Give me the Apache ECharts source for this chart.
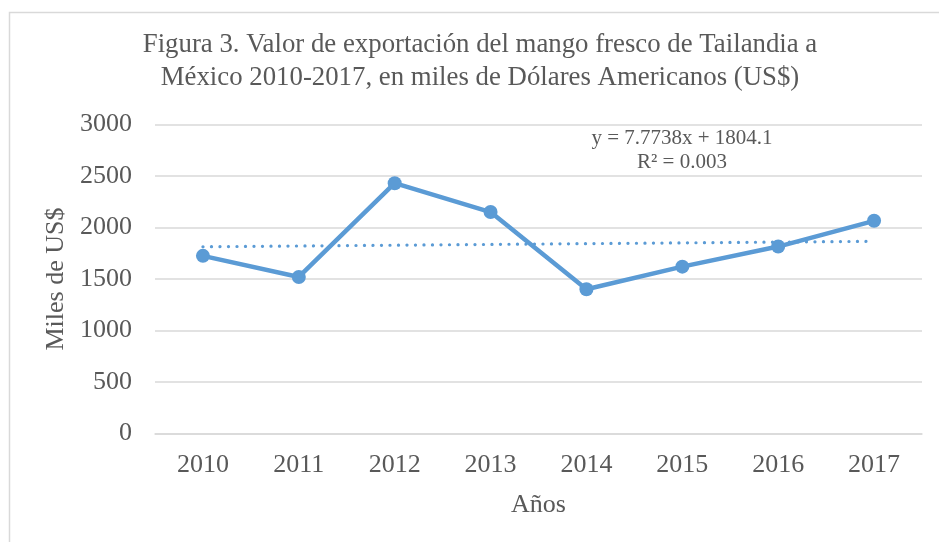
<!DOCTYPE html>
<html>
<head>
<meta charset="utf-8">
<script src="https://cdn.jsdelivr.net/npm/echarts@6/dist/echarts.min.js"></script>
<style>
html,body{margin:0;padding:0;background:#fff;}
#chart{width:939px;height:542px;}
</style>
</head>
<body>
<div id="chart"></div>
<script>
var categories = ['2010','2011','2012','2013','2014','2015','2016','2017'];
var values = [1725, 1520, 2430, 2150, 1400, 1620, 1815, 2065];
var trendValues = [1813, null, null, null, null, null, null, 1866];
var yTicks = [0, 500, 1000, 1500, 2000, 2500, 3000];
var titleText = 'Figura 3. Valor de exportación del mango fresco de Tailandia a\nMéxico 2010-2017, en miles de Dólares Americanos (US$)';
var equationText = 'y = 7.7738x + 1804.1\nR² = 0.003';

var FONT = '"Liberation Serif", "Times New Roman", serif';
var GRAY = '#595959';
var BLUE = '#5B9BD5';

var chart = echarts.init(document.getElementById('chart'), null, {renderer: 'canvas'});
chart.setOption({
  animation: false,
  backgroundColor: '#fff',
  graphic: [
    {type: 'rect', left: 7, top: 10, shape: {width: 1000, height: 600}, style: {fill: null, stroke: '#d9d9d9', lineWidth: 1.5}, silent: true, z: -1},
    {type: 'text', x: 480, y: 61.5, style: {text: titleText, font: '26.8px ' + FONT, fill: GRAY, align: 'center', verticalAlign: 'middle', lineHeight: 33}, z: 10},
    {type: 'text', x: 682, y: 150, style: {text: equationText, font: '21px ' + FONT, fill: GRAY, align: 'center', verticalAlign: 'middle', lineHeight: 24}, z: 10}
  ],
  grid: {left: 155, right: 17, top: 124.5, bottom: 108.5, containLabel: false},
  xAxis: {
    type: 'category',
    data: categories,
    boundaryGap: true,
    name: 'Años',
    nameLocation: 'middle',
    nameGap: 59,
    nameTextStyle: {fontFamily: FONT, fontSize: 26, color: GRAY, verticalAlign: 'top'},
    axisLine: {lineStyle: {color: '#d9d9d9', width: 1.5}},
    axisTick: {show: false},
    axisLabel: {fontFamily: FONT, fontSize: 26, color: GRAY, margin: 19}
  },
  yAxis: {
    type: 'value',
    min: yTicks[0],
    max: yTicks[yTicks.length - 1],
    interval: 500,
    name: 'Miles de US$',
    nameLocation: 'middle',
    nameGap: 69,
    nameTextStyle: {fontFamily: FONT, fontSize: 26, color: GRAY},
    axisLine: {show: false},
    axisTick: {show: false},
    axisLabel: {fontFamily: FONT, fontSize: 26, color: GRAY, margin: 23, formatter: function (v) { return String(v); }},
    splitLine: {lineStyle: {color: '#d9d9d9', width: 1.5}}
  },
  series: [
    {
      type: 'line',
      data: trendValues,
      connectNulls: true,
      symbol: 'none',
      lineStyle: {color: BLUE, width: 3.2, type: [0.1, 8.4], cap: 'round'},
      z: 1
    },
    {
      type: 'line',
      data: values,
      symbol: 'circle',
      symbolSize: 14,
      itemStyle: {color: BLUE},
      lineStyle: {color: BLUE, width: 4.5},
      z: 2
    }
  ]
});
</script>
</body>
</html>
